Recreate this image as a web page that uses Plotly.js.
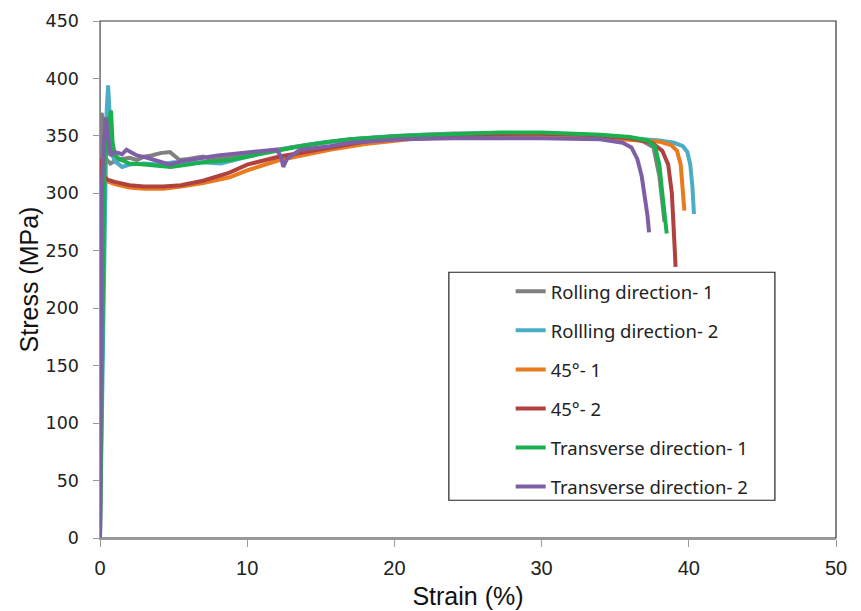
<!DOCTYPE html>
<html>
<head>
<meta charset="utf-8">
<script src="https://cdn.plot.ly/plotly-3.0.1.min.js"></script>
<style>body{margin:0;padding:0;background:#fff}#chart{width:861px;height:611px}</style>
</head>
<body>
<div id="chart"></div>
<script>
// ---- Data ----
const seriesNames = ["Rolling direction- 1", "Rollling direction- 2", "45°- 1", "45°- 2", "Transverse direction- 1", "Transverse direction- 2"];

const rd1Strain = [0, 0.05, 0.1, 0.2, 0.4, 0.7, 1.0, 1.5, 2.0, 2.5, 3.0, 3.5, 4.1, 4.75, 5.4, 6.0, 7.0, 7.7, 8.5, 10, 12, 14, 17, 20, 24, 28, 32, 35, 36.8, 37.6, 38.0, 38.2, 38.35];
const rd1Stress = [0, 200, 370, 365, 330, 326, 328, 330, 331, 329, 332, 333, 335, 336, 329, 330, 332, 329, 331, 334, 338, 342, 347, 350, 352, 352, 351, 349, 346, 340, 315, 290, 275];

const rd2Strain = [0, 0.3, 0.45, 0.55, 0.65, 0.8, 1.0, 1.5, 2.0, 3.0, 4.0, 5.0, 6.0, 7.0, 8.2, 9.5, 11, 13, 15, 18, 22, 26, 30, 34, 37, 38.0, 39.0, 39.6, 39.9, 40.1, 40.25, 40.35];
const rd2Stress = [0, 280, 370, 394, 370, 335, 328, 323, 325, 326, 325, 327, 326, 327, 326, 330, 335, 340, 344, 348, 351, 352, 352, 350, 347, 346, 344, 341, 336, 325, 305, 282];

const d45aStrain = [0, 0.05, 0.1, 0.3, 0.6, 1.0, 2.0, 3.0, 4.3, 5.5, 7.0, 8.8, 10, 12.2, 15.6, 18, 21, 25, 29, 33, 36, 38, 38.8, 39.2, 39.45, 39.6, 39.7];
const d45aStress = [0, 150, 325, 315, 310, 308, 305, 304, 304, 306, 309, 314, 320, 329, 338, 343, 347, 350, 350, 349, 347, 345, 342, 337, 325, 305, 285];

const d45bStrain = [0, 0.03, 0.08, 0.2, 0.5, 1.0, 2.0, 3.0, 4.3, 5.5, 7.0, 8.8, 10, 12.2, 15.6, 18, 21, 25, 29, 33, 36, 37.5, 38.2, 38.6, 38.85, 39.0, 39.05, 39.1];
const d45bStress = [0, 150, 330, 316, 312, 310, 307, 306, 306, 307, 311, 318, 325, 332, 340, 345, 349, 351, 352, 351, 348, 344, 337, 325, 300, 270, 250, 236];

const td1Strain = [0, 0.15, 0.3, 0.5, 0.75, 0.85, 1.0, 1.3, 2.0, 3.0, 4.0, 4.8, 6.0, 7.0, 8.8, 10, 11.5, 13.6, 15.6, 17, 20.4, 24, 27.2, 30, 34, 36, 37.2, 37.7, 38.0, 38.2, 38.35, 38.5];
const td1Stress = [0, 150, 320, 355, 372, 345, 333, 330, 326, 325, 324, 323, 325, 327, 329, 332, 336, 341, 345, 347, 350, 352, 353, 353, 351, 349, 346, 341, 325, 300, 280, 265];

const td2Strain = [0, 0.05, 0.11, 0.25, 0.4, 0.55, 0.7, 1.0, 1.5, 1.8, 2.5, 3.2, 4.0, 4.75, 5.5, 6.8, 8.0, 9.5, 11, 12.0, 12.3, 12.45, 12.7, 13.2, 13.6, 15.6, 17, 20.4, 24, 27.2, 30, 34, 35.5, 36.1, 36.5, 36.8, 37.0, 37.2, 37.3];
const td2Stress = [0, 150, 300, 340, 366, 350, 333, 336, 334, 338, 333, 331, 328, 325, 328, 331, 333, 335, 337, 338, 332, 323, 330, 335, 338, 341, 344, 347, 348, 348, 348, 347, 344, 340, 330, 315, 300, 280, 266];

const xTicks = [0, 10, 20, 30, 40, 50];
const yTicks = [0, 50, 100, 150, 200, 250, 300, 350, 400, 450];

// ---- Styling ----
const colors = ["#808080", "#4BACC6", "#EA7A1E", "#B0413E", "#1BB04E", "#7E5FA6"];
const strains = [rd1Strain, rd2Strain, d45aStrain, d45bStrain, td1Strain, td2Strain];
const stresses = [rd1Stress, rd2Stress, d45aStress, d45bStress, td1Stress, td2Stress];

const traces = seriesNames.map((n, i) => ({
  type: "scatter", mode: "lines", name: n,
  x: strains[i], y: stresses[i],
  line: {color: colors[i], width: 4},
  legendgroup: "g" + i
}));

const layout = {
  width: 861, height: 611,
  margin: {l: 100, r: 25, t: 21, b: 73},
  paper_bgcolor: "#fff", plot_bgcolor: "#fff",
  showlegend: true,
  legend: {
    x: 0.558, y: 0.513, xanchor: "left", yanchor: "top",
    bgcolor: "rgba(0,0,0,0)", borderwidth: 0,
    font: {family: "Noto Sans, Open Sans, sans-serif", size: 18.5, color: "#222"},
    tracegroupgap: 12, traceorder: "grouped"
  },
  xaxis: {
    range: [0, 50], tickvals: xTicks, ticktext: xTicks.map(String),
    showgrid: false, zeroline: false,
    showline: true, linecolor: "#9a9a9a", linewidth: 1.5,
    ticks: "outside", ticklen: 7, tickcolor: "#9a9a9a",
    ticklabelstandoff: 4,
    tickfont: {family: "Liberation Sans, Arial", size: 20, color: "#222"},
    title: {text: "Strain (%)", font: {family: "Liberation Sans, Arial", size: 25, color: "#111"}, standoff: 10}
  },
  yaxis: {
    range: [0, 450], tickvals: yTicks, ticktext: yTicks.map(String),
    showgrid: false, zeroline: false,
    showline: true, linecolor: "#9a9a9a", linewidth: 1.5,
    ticks: "outside", ticklen: 6, tickcolor: "#9a9a9a",
    ticklabelstandoff: 10,
    tickfont: {family: "DejaVu Sans, Verdana, sans-serif", size: 17.5, color: "#222"},
    title: {text: "Stress (MPa)", font: {family: "Liberation Sans, Arial", size: 25, color: "#111"}, standoff: 0}
  },
  shapes: [
    {type: "rect", xref: "paper", yref: "paper", x0: 0, x1: 1, y0: 0, y1: 1,
     line: {color: "#333", width: 1.2}, layer: "below"},
    {type: "rect", xref: "paper", yref: "paper", x0: 0.474, x1: 0.917, y0: 0.073, y1: 0.514,
     line: {color: "#222", width: 1.2}, fillcolor: "#fff", layer: "above"}
  ]
};

Plotly.newPlot("chart", traces, layout, {displayModeBar: false, staticPlot: true});
</script>
</body>
</html>
